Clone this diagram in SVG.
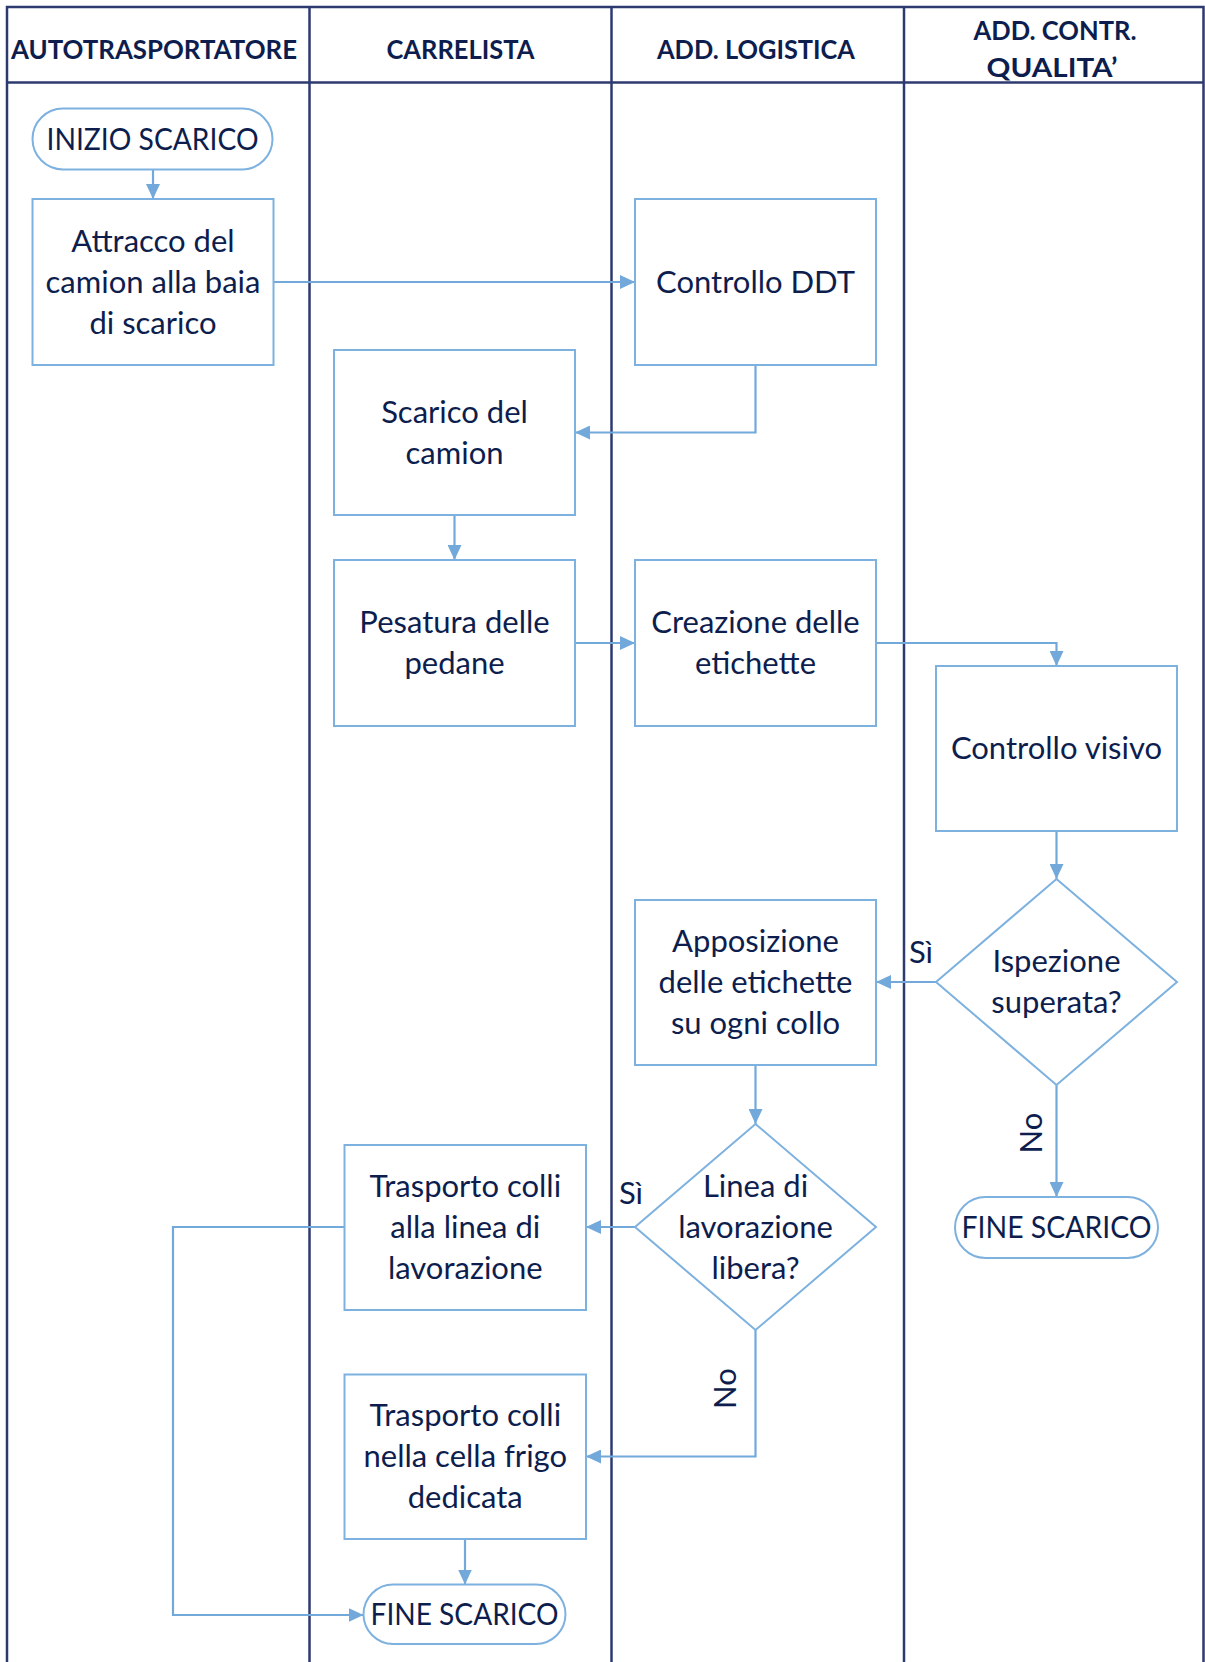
<svg xmlns="http://www.w3.org/2000/svg" width="1205" height="1662" viewBox="0 0 1205 1662">
  <style>
    .lane { fill: none; stroke: #2C3A70; stroke-width: 2.5; }
    .head { font-family: Lato, "Liberation Sans", sans-serif; font-weight: bold; font-size: 27px; fill: #0D1E4E; text-anchor: middle; }
    .box { fill: #FFFFFF; stroke: #7DB1DF; stroke-width: 2; }
    .lbl { font-family: Lato, "Liberation Sans", sans-serif; font-size: 31px; fill: #0D1E4E; text-anchor: middle; }
    .edge { fill: none; stroke: #72A9DA; stroke-width: 2.2; marker-end: url(#arrow); }
  </style>
  <defs>
    <marker id="arrow" markerUnits="userSpaceOnUse" markerWidth="16" markerHeight="14" refX="15" refY="7" orient="auto">
      <path d="M0,0 L15,7 L0,14 Z" fill="#72A9DA"/>
    </marker>
  </defs>

  <rect width="1205" height="1662" fill="#FFFFFF"/>

  <!-- swimlane frame -->
  <g id="lanes">
    <path class="lane" d="M7,1662 V7 H1203.5 V1662"/>
    <path class="lane" d="M7,82.5 H1203.5"/>
    <path class="lane" d="M309.5,7 V1662"/>
    <path class="lane" d="M611.5,7 V1662"/>
    <path class="lane" d="M904,7 V1662"/>
    <text class="head" x="154" y="58.5" textLength="286" lengthAdjust="spacingAndGlyphs">AUTOTRASPORTATORE</text>
    <text class="head" x="460.5" y="58.5" textLength="148" lengthAdjust="spacingAndGlyphs">CARRELISTA</text>
    <text class="head" x="756" y="58.5" textLength="198" lengthAdjust="spacingAndGlyphs">ADD. LOGISTICA</text>
    <text class="head" x="1055" y="40" textLength="163" lengthAdjust="spacingAndGlyphs">ADD. CONTR.</text>
    <text class="head" x="1052" y="76.5" textLength="131" lengthAdjust="spacingAndGlyphs">QUALITA’</text>
  </g>

  <!-- connectors -->
  <g id="connectors">
    <path class="edge" d="M153,169.5 V199"/>
    <path class="edge" d="M273.5,282 H635"/>
    <path class="edge" d="M755.5,365 V432.5 H575"/>
    <path class="edge" d="M454.5,515 V560"/>
    <path class="edge" d="M575,643 H635"/>
    <path class="edge" d="M876,643 H1056.5 V666"/>
    <path class="edge" d="M1056.5,831 V879"/>
    <path class="edge" d="M936,982 H876"/>
    <path class="edge" d="M1056.5,1085 V1197"/>
    <path class="edge" d="M755.5,1065 V1124"/>
    <path class="edge" d="M635,1227 H586"/>
    <path class="edge" d="M755.5,1330 V1456.5 H586"/>
    <path class="edge" d="M465,1539 V1584.5"/>
    <path class="edge" d="M344.5,1227 H173 V1615 H363.5"/>
    <text class="lbl" x="921" y="963">Sì</text>
    <text class="lbl" x="631" y="1204">Sì</text>
    <text class="lbl" transform="translate(1041.5,1133) rotate(-90)">No</text>
    <text class="lbl" transform="translate(735.5,1388.5) rotate(-90)">No</text>
  </g>

  <g id="inizio-scarico">
    <rect class="box" x="32.5" y="108.5" width="240" height="61" rx="30.5"/>
    <text class="lbl" x="152.5" y="149.5" textLength="212" lengthAdjust="spacingAndGlyphs">INIZIO SCARICO</text>
  </g>

  <g id="attracco">
    <rect class="box" x="32.5" y="199" width="241" height="166"/>
    <text class="lbl" x="153" y="251.5">Attracco del</text>
    <text class="lbl" x="153" y="292.5">camion alla baia</text>
    <text class="lbl" x="153" y="333.5">di scarico</text>
  </g>

  <g id="controllo-ddt">
    <rect class="box" x="635" y="199" width="241" height="166"/>
    <text class="lbl" x="755.5" y="292.5">Controllo DDT</text>
  </g>

  <g id="scarico-camion">
    <rect class="box" x="334" y="350" width="241" height="165"/>
    <text class="lbl" x="454.5" y="422.5">Scarico del</text>
    <text class="lbl" x="454.5" y="463.5">camion</text>
  </g>

  <g id="pesatura">
    <rect class="box" x="334" y="560" width="241" height="166"/>
    <text class="lbl" x="454.5" y="633">Pesatura delle</text>
    <text class="lbl" x="454.5" y="674">pedane</text>
  </g>

  <g id="creazione-etichette">
    <rect class="box" x="635" y="560" width="241" height="166"/>
    <text class="lbl" x="755.5" y="633">Creazione delle</text>
    <text class="lbl" x="755.5" y="674">etichette</text>
  </g>

  <g id="controllo-visivo">
    <rect class="box" x="936" y="666" width="241" height="165"/>
    <text class="lbl" x="1056.5" y="759">Controllo visivo</text>
  </g>

  <g id="ispezione">
    <path class="box" d="M1056.5,879 L1177,982 L1056.5,1085 L936,982 Z"/>
    <text class="lbl" x="1056.5" y="972">Ispezione</text>
    <text class="lbl" x="1056.5" y="1013">superata?</text>
  </g>

  <g id="apposizione">
    <rect class="box" x="635" y="900" width="241" height="165"/>
    <text class="lbl" x="755.5" y="952">Apposizione</text>
    <text class="lbl" x="755.5" y="993">delle etichette</text>
    <text class="lbl" x="755.5" y="1034">su ogni collo</text>
  </g>

  <g id="fine-scarico-qualita">
    <rect class="box" x="955" y="1197" width="203" height="61" rx="30.5"/>
    <text class="lbl" x="1056.5" y="1238" textLength="190" lengthAdjust="spacingAndGlyphs">FINE SCARICO</text>
  </g>

  <g id="linea-libera">
    <path class="box" d="M755.5,1124 L876,1227 L755.5,1330 L635,1227 Z"/>
    <text class="lbl" x="755.5" y="1196.5">Linea di</text>
    <text class="lbl" x="755.5" y="1237.5">lavorazione</text>
    <text class="lbl" x="755.5" y="1278.5">libera?</text>
  </g>

  <g id="trasporto-linea">
    <rect class="box" x="344.5" y="1145" width="241.5" height="165"/>
    <text class="lbl" x="465.25" y="1197">Trasporto colli</text>
    <text class="lbl" x="465.25" y="1238">alla linea di</text>
    <text class="lbl" x="465.25" y="1279">lavorazione</text>
  </g>

  <g id="trasporto-cella">
    <rect class="box" x="344.5" y="1374.5" width="241.5" height="164.5"/>
    <text class="lbl" x="465.25" y="1426">Trasporto colli</text>
    <text class="lbl" x="465.25" y="1467">nella cella frigo</text>
    <text class="lbl" x="465.25" y="1508">dedicata</text>
  </g>

  <g id="fine-scarico">
    <rect class="box" x="363.5" y="1584.5" width="202" height="59.5" rx="29.75"/>
    <text class="lbl" x="464.5" y="1624.5" textLength="188" lengthAdjust="spacingAndGlyphs">FINE SCARICO</text>
  </g>
</svg>
